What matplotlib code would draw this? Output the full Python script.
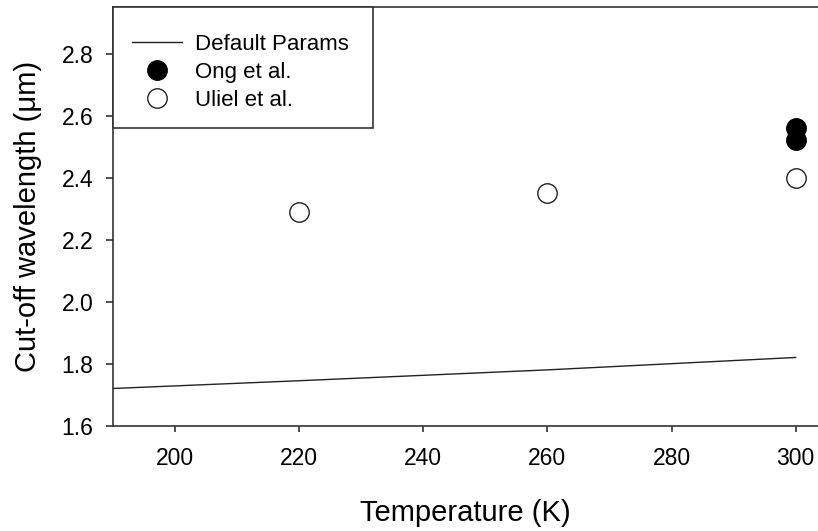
import matplotlib
matplotlib.use("Agg")
import matplotlib.pyplot as plt
from matplotlib.patches import Rectangle

plt.rcParams['font.family'] = ['Liberation Sans', 'DejaVu Sans']

# Model curve (default parameters)
model_T = [190, 220, 260, 300]
model_wl = [1.72, 1.745, 1.78, 1.82]

# Ong et al. measurements
ong_T = [300, 300]
ong_wl = [2.56, 2.52]

# Uliel et al. measurements
uliel_T = [220, 260, 300]
uliel_wl = [2.29, 2.35, 2.40]

x_ticks = [200, 220, 240, 260, 280, 300]
y_ticks = [1.6, 1.8, 2.0, 2.2, 2.4, 2.6, 2.8]

W, H = 818, 531
fig = plt.figure(figsize=(W / 100, H / 100), dpi=100)
left, right, bottom, top = 113, 818, 425.7, 7
ax_w, ax_h = right - left, bottom - top
ax = fig.add_axes([left / W, 1 - bottom / H, ax_w / W, ax_h / H])

ax.plot(model_T, model_wl, color='#222222', lw=1.0, label='Default Params', zorder=2)
ax.plot(ong_T, ong_wl, 'o', ms=14, mfc='black', mec='black', mew=1.0,
        ls='none', label='Ong et al.', zorder=3)
ax.plot(uliel_T, uliel_wl, 'o', ms=14, mfc='white', mec='#222222', mew=1.0,
        ls='none', label='Uliel et al.', zorder=3)

ax.set_xlim(190, 303.6)
ax.set_ylim(1.6, 2.95)
ax.set_xticks(x_ticks)
ax.set_yticks(y_ticks)
ax.set_yticklabels([f"{v:.1f}" for v in y_ticks])

for side in ('left', 'bottom', 'top'):
    ax.spines[side].set_linewidth(1.2)
    ax.spines[side].set_color('#333333')
ax.spines['right'].set_visible(False)

ax.tick_params(direction='out', width=1.2, color='#333333', labelsize=16.5)
ax.tick_params(axis='x', length=4.5, pad=11)
ax.tick_params(axis='y', length=5, pad=9)

ax.set_xlabel('Temperature (K)', fontsize=21, labelpad=21)
ax.set_ylabel('Cut-off wavelength (μm)', fontsize=21, labelpad=14)

# Legend box: square frame hugging the top-left corner of the axes
box_w, box_h = 260, 121
ax.add_patch(Rectangle((0, 1 - box_h / ax_h), box_w / ax_w, box_h / ax_h,
                       transform=ax.transAxes, facecolor='white',
                       edgecolor='#333333', lw=1.2, zorder=4.5, clip_on=False))
ax.legend(loc='upper left', bbox_to_anchor=(-1 / ax_w, 1 - 7.2 / ax_h),
          borderaxespad=0, fontsize=16, frameon=False,
          handlelength=2.25, handletextpad=0.6, borderpad=0.9,
          labelspacing=0.31, markerscale=1.0)

fig.savefig('out.png', dpi=100)
